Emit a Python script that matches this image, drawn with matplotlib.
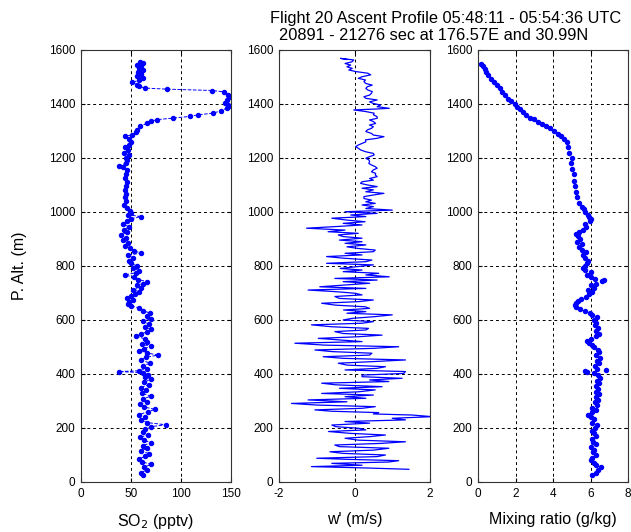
import numpy as np
import matplotlib
matplotlib.use("Agg")
import matplotlib.pyplot as plt

plt.rcParams['font.family'] = ['Liberation Sans', 'DejaVu Sans']
plt.rcParams['axes.unicode_minus'] = False

# SO2 profile (altitude m, pptv)
so2_alt = [26, 35, 45, 55, 65, 75, 85, 95, 105, 115, 125, 135, 145, 155, 165, 175, 185, 195,
           205, 212, 220, 230, 240, 250, 260, 269, 278, 288, 298, 308, 318, 328, 340, 350, 360,
           370, 380, 390, 398, 405, 409, 412, 420, 430, 440, 452, 462, 470, 478, 486, 494, 502,
           510, 520, 530, 540, 548, 556, 565, 575, 585, 595, 605, 615, 625, 635, 645, 652, 660,
           668, 675, 683, 690, 698, 705, 712, 720, 728, 735, 742, 750, 758, 767, 775, 783, 792,
           800, 810, 820, 830, 840, 848, 856, 865, 875, 885, 895, 905, 915, 925, 935, 945, 955,
           965, 975, 983, 990, 998, 1005, 1015, 1025, 1040, 1055, 1065, 1080, 1095, 1110, 1125,
           1140, 1155, 1165, 1172, 1180, 1192, 1200, 1210, 1220, 1230, 1240, 1250, 1260, 1270,
           1280, 1286, 1295, 1305, 1317, 1329, 1336, 1342, 1348, 1354, 1360, 1366, 1375, 1385,
           1392, 1398, 1405, 1415, 1425, 1435, 1445, 1450, 1455, 1459, 1465, 1472, 1480, 1488,
           1495, 1502, 1510, 1518, 1525, 1532, 1540, 1546, 1552, 1556]
so2_val = [62, 60, 66, 63, 70, 61, 58, 64, 68, 60, 66, 62, 70, 63, 59, 67, 62, 64,
           70, 85, 66, 60, 64, 58, 67, 74, 63, 59, 66, 62, 70, 61, 65, 60, 68,
           63, 70, 64, 67, 62, 38, 58, 66, 62, 69, 60, 65, 77, 66, 58, 63, 70,
           61, 66, 64, 55, 60, 66, 70, 64, 68, 62, 70, 66, 69, 62, 58, 50, 47,
           48, 52, 46, 50, 54, 58, 52, 60, 56, 62, 66, 57, 53, 44, 55, 58, 52,
           56, 50, 48, 52, 47, 60, 53, 49, 44, 47, 42, 45, 40, 46, 43, 48, 42,
           46, 50, 60, 47, 50, 49, 46, 43, 45, 44, 45, 44, 45, 46, 44,
           45, 46, 42, 38, 45, 46, 45, 48, 43, 47, 44, 48, 50, 48,
           44, 51, 55, 56, 59, 66, 70, 76, 92, 109, 117, 132, 140, 146,
           150, 147, 144, 146, 148, 147, 143, 131, 86, 64, 58, 56, 51, 58,
           62, 56, 60, 57, 62, 58, 60, 56, 62, 59]

# vertical wind w' (altitude m, m/s)
w_alt = [47, 52, 57, 62, 69, 74, 79, 84, 88, 94, 100, 106, 112, 118, 125, 131, 137, 143, 149,
         155, 162, 168, 174, 180, 187, 193, 199, 205, 211, 218, 224, 230, 236, 242, 248, 252,
         257, 262, 267, 273, 279, 285, 291, 297, 304, 310, 316, 322, 328, 334, 341, 347, 353,
         360, 366, 372, 378, 384, 390, 396, 402, 409, 415, 421, 427, 433, 440, 446, 452, 458,
         464, 470, 477, 483, 489, 495, 501, 507, 514, 520, 526, 532, 538, 544, 550, 557, 563,
         569, 575, 582, 588, 594, 600, 606, 612, 619, 625, 631, 637, 643, 649, 655, 662, 668,
         674, 680, 687, 693, 699, 705, 711, 717, 723, 730, 736, 742, 748, 754, 760, 767, 773,
         779, 785, 791, 798, 804, 810, 816, 822, 829, 835, 841, 847, 853, 859, 865, 871, 878,
         884, 890, 896, 903, 909, 915, 921, 927, 933, 940, 946, 952, 958, 964, 970, 977, 983,
         989, 995, 1001, 1007, 1013, 1020, 1026, 1032, 1038, 1044, 1050, 1057, 1063, 1069,
         1075, 1082, 1088, 1094, 1100, 1106, 1112, 1118, 1124, 1131, 1137, 1143, 1149, 1156,
         1162, 1168, 1174, 1180, 1187, 1193, 1199, 1205, 1211, 1217, 1223, 1230, 1236, 1242,
         1248, 1254, 1260, 1267, 1273, 1279, 1285, 1291, 1298, 1304, 1310, 1316, 1322, 1328,
         1335, 1341, 1347, 1353, 1360, 1366, 1372, 1378, 1381, 1384, 1390, 1396, 1402, 1408,
         1415, 1421, 1427, 1433, 1440, 1446, 1452, 1458, 1464, 1470, 1476, 1483, 1489, 1495,
         1501, 1508, 1514, 1520, 1526, 1532, 1538, 1544, 1550, 1556, 1563, 1569, 1565]
w_val = [1.44, 0.3, -1.14, 0.2, -0.6, 0.9, 1.17, -0.2, -1.0, 0.6, 0.82, -0.3, -0.65, 0.5, 0.91,
         -0.4, -0.52, 0.7, 1.35, 0.1, -0.25, 0.4, 0.82, -0.1, -0.69, 0.3, 0.11, -0.5, -0.6, 0.4,
         -0.25, 1.35, 1.0, 2.06, 1.53, 0.5, 0.64, -0.6, -1.05, 0.2, 0.55, -1.0, -1.67, -0.2,
         -1.23, 0.3, -0.25, 0.5, -0.87, 0.1, 0.55, -0.4, 0.73, -0.5, -0.87, 0.91, 0.4, 1.26,
         0.2, 0.2, 1.3, 1.35, -0.25, 0.6, 0.82, -0.2, -0.43, 0.5, 1.35, -0.3, -0.83, 0.4, 0.46,
         -0.6, -1.05, 0.5, 1.17, -0.8, -1.58, 0.2, -0.4, -0.96, 0.1, 0.73, -0.3, -0.52, 0.3,
         0.37, -0.6, -1.14, 0.2, 0.5, -0.3, -0.07, 0.5, 1.0, -0.2, 0.3, -0.29, 0.4, 0.28, -0.5,
         -0.87, 0.1, 0.5, -0.4, -0.52, 0.2, 0.02, -0.5, -1.23, 0.3, -0.92, -0.2, 0.4, -0.3, 0.6,
         -0.52, 0.92, 0.3, 0.64, -0.3, 0.2, -0.38, 0.1, 0.5, -0.74, 0.3, 0.46, -0.3, -0.74, 0.2,
         -0.25, 0.5, 0.55, 0.1, -0.2, 0.3, -0.25, 0.2, -0.4, 0.2, -0.3, -0.43, 0.1, -0.7, -0.25,
         -1.27, -0.5, 0.2, -0.3, 0.28, -0.2, -0.6, 0.3, -0.1, 0.6, -0.25, 1.0, 0.3, 0.5, 0.2,
         0.55, 0.3, 0.45, 0.25, 0.25, 0.5, 0.78, 0.3, 0.5, 0.2, 0.6, 0.35, 0.16, 0.2, 0.5, 0.4,
         0.6, 0.55, 0.56, 0.45, 0.5, 0.6, 0.55, 0.45, 0.38, 0.4, 0.38, 0.3, 0.4, 0.52, 0.5, 0.3,
         0.16, 0.1, 0.03, 0.1, 0.2, 0.3, 0.29, 0.6, 0.78, 0.5, 0.45, 0.3, 0.34, 0.45, 0.5, 0.4,
         0.56, 0.5, 0.4, 0.6, 0.6, 0.5, 0.52, 0.3, -0.02, 0.5, 0.92, 0.6, 0.69, 0.5, 0.4, 0.6,
         0.3, 0.25, 0.4, 0.45, 0.47, 0.35, 0.3, 0.34, 0.47, 0.3, 0.25, 0.29, 0.1, 0.2, 0.43,
         0.35, 0.04, -0.15, -0.06, -0.2, -0.1, -0.25, -0.07, -0.02, -0.37, -0.2]

# mixing ratio (altitude m, g/kg)
mr_alt = [26, 35, 45, 55, 62, 70, 80, 90, 100, 110, 120, 130, 140, 150, 160, 170, 180, 190,
          200, 210, 220, 232, 242, 250, 258, 266, 275, 285, 295, 305, 315, 325, 335, 345, 355,
          365, 375, 385, 395, 402, 407, 410, 415, 420, 430, 440, 450, 460, 470, 480, 490, 500,
          508, 515, 522, 530, 540, 550, 560, 570, 580, 590, 600, 610, 618, 625, 632, 640, 648,
          655, 662, 670, 678, 686, 695, 703, 712, 720, 728, 735, 743, 748, 752, 760, 768, 776,
          785, 792, 800, 810, 820, 830, 840, 850, 860, 870, 880, 890, 900, 910, 918, 925, 935,
          945, 955, 965, 975, 982, 990, 1000, 1010, 1020, 1035, 1055, 1075, 1095, 1115, 1140,
          1160, 1180, 1200, 1220, 1240, 1260, 1272, 1280, 1290, 1300, 1310, 1318, 1325, 1335,
          1343, 1350, 1360, 1370, 1380, 1390, 1400, 1410, 1420, 1432, 1445, 1458, 1470, 1482,
          1494, 1506, 1518, 1530, 1540, 1550]
mr_val = [6.1, 6.3, 6.4, 6.55, 6.3, 6.2, 6.0, 6.1, 6.3, 6.15, 6.2, 6.05, 6.3, 6.15, 6.1, 6.3,
          6.2, 6.1, 6.25, 6.35, 6.1, 6.2, 6.0, 5.85, 6.1, 6.3, 6.1, 6.35, 6.25, 6.4, 6.3, 6.45,
          6.3, 6.4, 6.3, 6.45, 6.35, 6.5, 6.4, 6.2, 5.8, 5.7, 6.8, 6.35, 6.25, 6.45, 6.35, 6.5,
          6.3, 6.45, 6.4, 6.2, 6.1, 5.9, 5.8, 6.0, 6.3, 6.45, 6.3, 6.4, 6.25, 6.3, 6.2, 6.35,
          6.1, 5.95, 5.7, 5.45, 5.25, 5.15, 5.2, 5.35, 5.5, 5.75, 5.9, 6.1, 5.85, 6.2, 6.0, 6.3,
          6.6, 6.7, 6.25, 6.0, 5.8, 6.05, 5.7, 5.6, 5.7, 5.8, 5.85, 5.7, 5.6, 5.75, 5.55, 5.4,
          5.55, 5.3, 5.45, 5.35, 5.2, 5.4, 5.6, 5.75, 5.7, 5.95, 6.0, 5.9, 5.85, 5.7, 5.65, 5.55,
          5.4, 5.3, 5.2, 5.15, 5.1, 5.1, 5.0, 4.97, 5.0, 4.85, 4.8, 4.72, 4.6, 4.4, 4.25, 4.05,
          3.85, 3.65, 3.4, 3.2, 3.0, 2.75, 2.55, 2.4, 2.25, 2.1, 1.95, 1.75, 1.6, 1.45, 1.3, 1.15,
          1.0, 0.85, 0.7, 0.55, 0.45, 0.35, 0.25, 0.18]

alt_ticks = [0, 200, 400, 600, 800, 1000, 1200, 1400, 1600]

fig = plt.figure(figsize=(6.31, 5.32), dpi=100)
W, H = 631.0, 532.0
bottom = 1 - 482 / H
height = (482 - 50) / H
ax1 = fig.add_axes([81 / W, bottom, 150 / W, height])
ax2 = fig.add_axes([279 / W, bottom, 151 / W, height])
ax3 = fig.add_axes([478 / W, bottom, 150 / W, height])

blue = '#0000ff'
ax1.plot(so2_val, so2_alt, color=blue, lw=0.7, ls='--', marker='o', ms=2.9, mec=blue, mfc=blue)
ax2.plot(w_val, w_alt, color=blue, lw=0.9)
ax3.plot(mr_val, mr_alt, color=blue, lw=0, marker='o', ms=2.9, mec=blue, mfc=blue)

ax1.set_xlim(0, 150)
ax1.set_xticks([0, 50, 100, 150])
ax2.set_xlim(-2, 2)
ax2.set_xticks([-2, 0, 2])
ax3.set_xlim(0, 8)
ax3.set_xticks([0, 2, 4, 6, 8])

for ax in (ax1, ax2, ax3):
    ax.set_ylim(0, 1600)
    ax.set_yticks(alt_ticks)
    ax.grid(True, color='black', ls=(0, (3, 3)), lw=0.7)
    ax.tick_params(direction='in', length=3, labelsize=8.5, top=True, right=True, pad=4)
    for s in ax.spines.values():
        s.set_linewidth(0.8)
        s.set_color('#333333')

ax1.set_ylabel('P. Alt. (m)', fontsize=11.5)
ax1.yaxis.set_label_coords(-0.36, 0.5)
ax1.set_xlabel('SO$_2$ (pptv)', fontsize=11.5, labelpad=9)
ax2.set_xlabel("w' (m/s)", fontsize=11.5, labelpad=9)
ax3.set_xlabel('Mixing ratio (g/kg)', fontsize=11.5, labelpad=9)

fig.text(446 / W, 1 - 18 / H, 'Flight 20 Ascent Profile 05:48:11 - 05:54:36 UTC',
         ha='center', va='center', fontsize=11.8)
fig.text(434 / W, 1 - 35 / H, '20891 - 21276 sec at 176.57E and 30.99N',
         ha='center', va='center', fontsize=11.8)

fig.savefig('out.png', dpi=100)
